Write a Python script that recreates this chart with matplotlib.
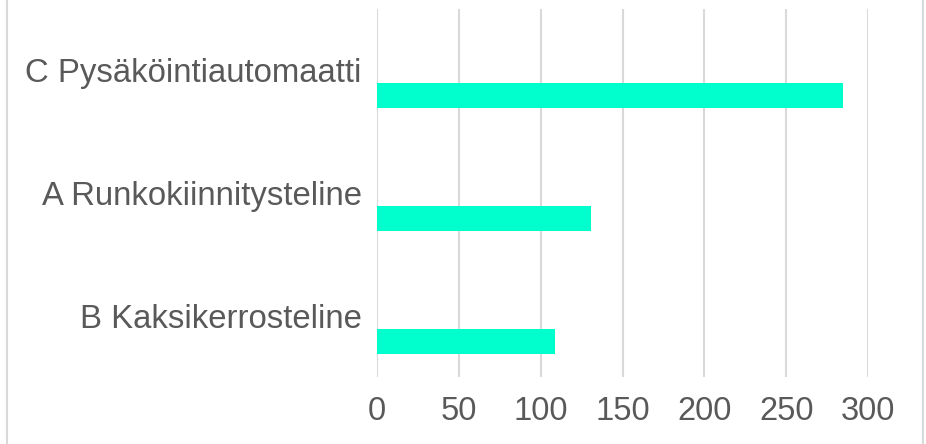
import matplotlib
matplotlib.use('Agg')
import matplotlib.pyplot as plt
from matplotlib.lines import Line2D

categories = ['C Pysäköintiautomaatti', 'A Runkokiinnitysteline', 'B Kaksikerrosteline']
values = [285, 131, 109]
xticks = [0, 50, 100, 150, 200, 250, 300]

text_col = '#595959'
grid_col = '#d9d9d9'
bar_col = '#00ffcc'

plt.rcParams['font.family'] = ['Liberation Sans', 'DejaVu Sans']

fig = plt.figure(figsize=(9.26, 4.44), dpi=100)
ax = fig.add_axes([377/926, 1 - 377/444, (868 - 377)/926, 368/444])

pos = list(range(len(categories)))
# bar sits in the lower half of each category band (second slot of a 2-series cluster)
ax.barh([p + 0.207 for p in pos], values, height=0.204, color=bar_col, zorder=3)

ax.set_ylim(len(categories) - 0.5, -0.5)
ax.set_xlim(0, 300)
ax.set_xticks(xticks)
ax.set_yticks(pos)
ax.set_yticklabels(categories)

ax.grid(axis='x', color=grid_col, linewidth=1.5, zorder=0)
for s in ax.spines.values():
    s.set_visible(False)
ax.tick_params(axis='both', length=0, colors=text_col)
ax.tick_params(axis='x', pad=14, labelsize=23.5)
ax.tick_params(axis='y', pad=11, labelsize=23.7)

# chart area border (left/right edges)
fig.add_artist(Line2D([6.5/926, 6.5/926], [0, 1], color=grid_col, linewidth=1.5))
fig.add_artist(Line2D([923/926, 923/926], [0, 1], color=grid_col, linewidth=1.5))

fig.savefig('out.png', dpi=100)
